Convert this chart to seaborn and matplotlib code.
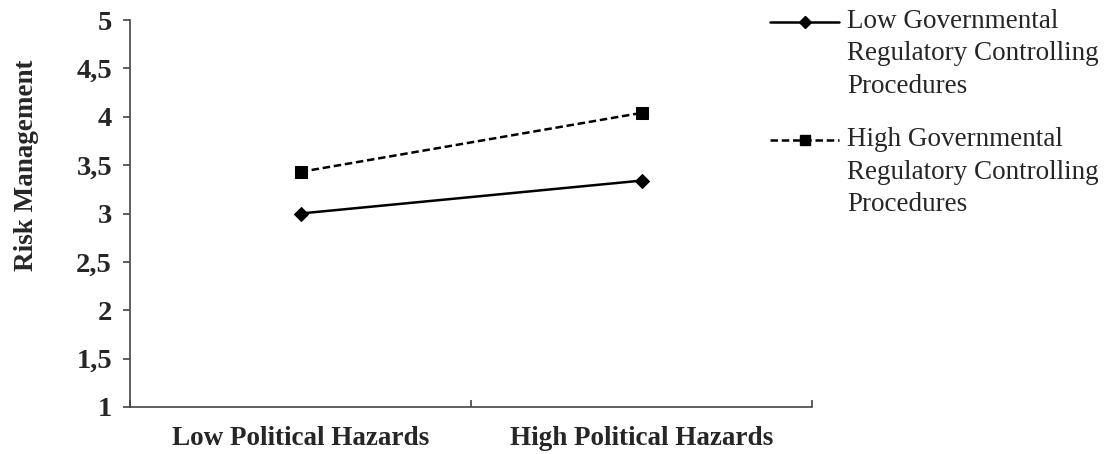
import matplotlib
matplotlib.use("Agg")
import matplotlib.pyplot as plt
import seaborn as sns
import pandas as pd
import numpy as np
from matplotlib.ticker import FixedLocator
from matplotlib.lines import Line2D
from matplotlib.legend_handler import HandlerLine2D

categories = ["Low Political Hazards", "High Political Hazards"]
low_reg = [3.00, 3.34]
high_reg = [3.43, 4.04]
series_names = ["Low Governmental\nRegulatory Controlling\nProcedures",
                "High Governmental\nRegulatory Controlling\nProcedures"]
y_ticks = [1, 1.5, 2, 2.5, 3, 3.5, 4, 4.5, 5]

sns.set_style("white")
plt.rcParams['font.family'] = ['Liberation Serif', 'DejaVu Serif']

df = pd.DataFrame({
    "pos": [0, 1, 0, 1],
    "value": low_reg + high_reg,
    "series": [series_names[0]] * 2 + [series_names[1]] * 2,
})

fig = plt.figure(figsize=(11.07, 4.54), dpi=100)
ax = fig.add_axes([130 / 1107, 1 - 407 / 454, (812 - 130) / 1107, (407 - 20) / 454])

sns.lineplot(data=df, x="pos", y="value", hue="series", style="series",
             palette=["black", "black"], dashes=[(None, None), (3, 1.5)],
             markers=["D", "s"], markersize=8.5, linewidth=1.8,
             markeredgecolor="black", ax=ax, legend=False)
ax.lines[0].set_markersize(7.5)
ax.lines[0].set_linestyle("-")

tick_color = "#444444"
ax.set_xlim(-0.5, 1.5)
ax.set_ylim(1, 5)
ax.set_xticks([0, 1])
ax.set_xticklabels(categories, fontsize=19.5, fontweight="bold")
ax.xaxis.set_minor_locator(FixedLocator([-0.5, 0.5, 1.5]))
ax.tick_params(axis="x", which="major", bottom=False, length=0, pad=14)
ax.tick_params(axis="x", which="minor", bottom=True, length=5, width=1.2,
               direction="in", color=tick_color)
ax.set_yticks(y_ticks)
ax.set_yticklabels([str(t).replace(".", ",").replace(",0", "") for t in y_ticks],
                   fontsize=20.5, fontweight="bold")
ax.tick_params(axis="y", left=True, length=5, width=1.2, direction="out",
               color=tick_color, pad=8)
ax.set_xlabel("")
ax.set_ylabel("Risk Management", fontsize=19.5, fontweight="bold")
ax.yaxis.set_label_coords(-0.134, 0.625)

for side in ["top", "right"]:
    ax.spines[side].set_visible(False)
for side in ["left", "bottom"]:
    ax.spines[side].set_color(tick_color)
    ax.spines[side].set_linewidth(1.2)


# legend handle sits on the first line of each label, like Excel does
class FirstLineHandler(HandlerLine2D):
    def __init__(self, dy, **kw):
        super().__init__(**kw)
        self.dy = dy

    def create_artists(self, legend, orig_handle, xdescent, ydescent, width,
                       height, fontsize, trans):
        artists = super().create_artists(legend, orig_handle, xdescent, ydescent,
                                         width, height, fontsize, trans)
        for a in artists:
            a.set_ydata(np.asarray(a.get_ydata()) + self.dy)
        return artists


leg_fs = 19.5
line_pitch_pt = 32 * 72 / 100
handles = [Line2D([], [], color="black", lw=1.8, marker="D", markersize=6),
           Line2D([], [], color="black", lw=1.8, ls=(0, (3, 1.5)), marker="s", markersize=7)]
leg = fig.legend(handles, series_names, loc="upper left",
                 bbox_to_anchor=(770 / 1107, 1 - 9 / 454),
                 frameon=False, fontsize=leg_fs, handlelength=2.55, handletextpad=0.3,
                 labelspacing=1.05, borderaxespad=0, borderpad=0,
                 handler_map={h: FirstLineHandler(line_pitch_pt) for h in handles})
for t in leg.get_texts():
    t.set_linespacing(1.39)

fig.savefig("out.png", dpi=100)
